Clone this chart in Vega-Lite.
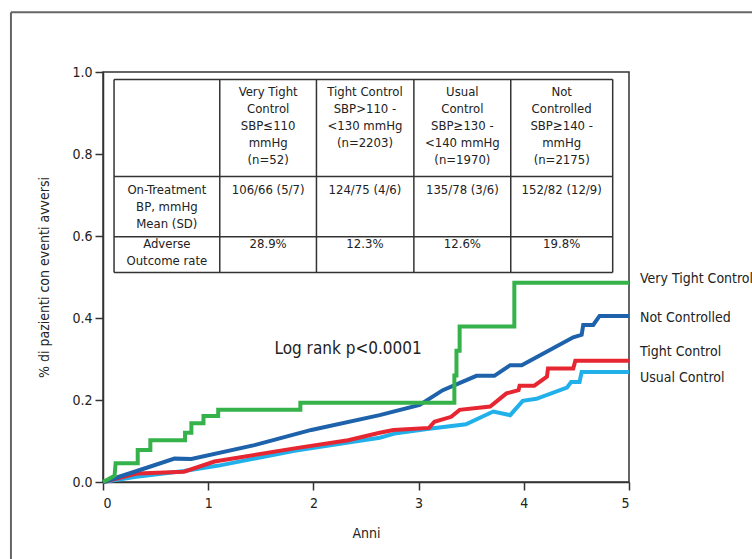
{
  "$schema": "https://vega.github.io/schema/vega-lite/v6.json",
  "width": 526,
  "height": 410,
  "autosize": {"type": "none"},
  "padding": {"left": 103, "top": 72, "right": 123, "bottom": 77},
  "background": "white",
  "config": {
    "font": "'DejaVu Sans Condensed', 'Liberation Sans Narrow', Roboto, sans-serif",
    "view": {"stroke": "#333", "strokeWidth": 1.5},
    "axis": {"labelFont": "'DejaVu Sans Condensed', 'Liberation Sans Narrow', Roboto, sans-serif", "titleFont": "'DejaVu Sans Condensed', 'Liberation Sans Narrow', Roboto, sans-serif", "labelColor": "#222", "titleColor": "#222", "domainColor": "#333", "tickColor": "#333", "domainWidth": 1.5, "tickWidth": 1.5, "grid": false, "titleFontWeight": "normal"}
  },
  "datasets": {
    "curves": [
      {"series": "Usual Control", "i": 1, "t": 0, "v": 0},
      {"series": "Usual Control", "i": 2, "t": 0.3, "v": 0.012},
      {"series": "Usual Control", "i": 3, "t": 0.77, "v": 0.027},
      {"series": "Usual Control", "i": 4, "t": 1.1, "v": 0.04},
      {"series": "Usual Control", "i": 5, "t": 1.82, "v": 0.076},
      {"series": "Usual Control", "i": 6, "t": 2.3, "v": 0.095},
      {"series": "Usual Control", "i": 7, "t": 2.63, "v": 0.108},
      {"series": "Usual Control", "i": 8, "t": 2.77, "v": 0.118},
      {"series": "Usual Control", "i": 9, "t": 3.1, "v": 0.13},
      {"series": "Usual Control", "i": 10, "t": 3.45, "v": 0.141},
      {"series": "Usual Control", "i": 11, "t": 3.71, "v": 0.172},
      {"series": "Usual Control", "i": 12, "t": 3.87, "v": 0.163},
      {"series": "Usual Control", "i": 13, "t": 3.99, "v": 0.198},
      {"series": "Usual Control", "i": 14, "t": 4.12, "v": 0.203},
      {"series": "Usual Control", "i": 15, "t": 4.41, "v": 0.23},
      {"series": "Usual Control", "i": 16, "t": 4.45, "v": 0.244},
      {"series": "Usual Control", "i": 17, "t": 4.53, "v": 0.244},
      {"series": "Usual Control", "i": 18, "t": 4.55, "v": 0.268},
      {"series": "Usual Control", "i": 19, "t": 5, "v": 0.268},
      {"series": "Tight Control", "i": 1, "t": 0, "v": 0},
      {"series": "Tight Control", "i": 2, "t": 0.33, "v": 0.021},
      {"series": "Tight Control", "i": 3, "t": 0.77, "v": 0.025},
      {"series": "Tight Control", "i": 4, "t": 1.06, "v": 0.05},
      {"series": "Tight Control", "i": 5, "t": 1.82, "v": 0.082},
      {"series": "Tight Control", "i": 6, "t": 2.33, "v": 0.102},
      {"series": "Tight Control", "i": 7, "t": 2.63, "v": 0.12},
      {"series": "Tight Control", "i": 8, "t": 2.76, "v": 0.127},
      {"series": "Tight Control", "i": 9, "t": 3.1, "v": 0.132},
      {"series": "Tight Control", "i": 10, "t": 3.15, "v": 0.147},
      {"series": "Tight Control", "i": 11, "t": 3.31, "v": 0.159},
      {"series": "Tight Control", "i": 12, "t": 3.39, "v": 0.176},
      {"series": "Tight Control", "i": 13, "t": 3.68, "v": 0.184},
      {"series": "Tight Control", "i": 14, "t": 3.835, "v": 0.216},
      {"series": "Tight Control", "i": 15, "t": 3.95, "v": 0.224},
      {"series": "Tight Control", "i": 16, "t": 3.96, "v": 0.235},
      {"series": "Tight Control", "i": 17, "t": 4.1, "v": 0.235},
      {"series": "Tight Control", "i": 18, "t": 4.22, "v": 0.257},
      {"series": "Tight Control", "i": 19, "t": 4.23, "v": 0.277},
      {"series": "Tight Control", "i": 20, "t": 4.47, "v": 0.277},
      {"series": "Tight Control", "i": 21, "t": 4.49, "v": 0.296},
      {"series": "Tight Control", "i": 22, "t": 5, "v": 0.296},
      {"series": "Not Controlled", "i": 1, "t": 0, "v": 0},
      {"series": "Not Controlled", "i": 2, "t": 0.3, "v": 0.025},
      {"series": "Not Controlled", "i": 3, "t": 0.68, "v": 0.057},
      {"series": "Not Controlled", "i": 4, "t": 0.84, "v": 0.056},
      {"series": "Not Controlled", "i": 5, "t": 1.44, "v": 0.09},
      {"series": "Not Controlled", "i": 6, "t": 1.98, "v": 0.127},
      {"series": "Not Controlled", "i": 7, "t": 2.63, "v": 0.163},
      {"series": "Not Controlled", "i": 8, "t": 3.01, "v": 0.188},
      {"series": "Not Controlled", "i": 9, "t": 3.23, "v": 0.224},
      {"series": "Not Controlled", "i": 10, "t": 3.55, "v": 0.259},
      {"series": "Not Controlled", "i": 11, "t": 3.72, "v": 0.259},
      {"series": "Not Controlled", "i": 12, "t": 3.87, "v": 0.285},
      {"series": "Not Controlled", "i": 13, "t": 3.98, "v": 0.285},
      {"series": "Not Controlled", "i": 14, "t": 4.47, "v": 0.353},
      {"series": "Not Controlled", "i": 15, "t": 4.55, "v": 0.359},
      {"series": "Not Controlled", "i": 16, "t": 4.565, "v": 0.383},
      {"series": "Not Controlled", "i": 17, "t": 4.66, "v": 0.383},
      {"series": "Not Controlled", "i": 18, "t": 4.72, "v": 0.405},
      {"series": "Not Controlled", "i": 19, "t": 5, "v": 0.405},
      {"series": "Very Tight Control", "i": 1, "t": 0, "v": 0},
      {"series": "Very Tight Control", "i": 2, "t": 0.11, "v": 0.015},
      {"series": "Very Tight Control", "i": 3, "t": 0.12, "v": 0.046},
      {"series": "Very Tight Control", "i": 4, "t": 0.33, "v": 0.046},
      {"series": "Very Tight Control", "i": 5, "t": 0.33, "v": 0.078},
      {"series": "Very Tight Control", "i": 6, "t": 0.45, "v": 0.078},
      {"series": "Very Tight Control", "i": 7, "t": 0.45, "v": 0.102},
      {"series": "Very Tight Control", "i": 8, "t": 0.78, "v": 0.102},
      {"series": "Very Tight Control", "i": 9, "t": 0.78, "v": 0.12},
      {"series": "Very Tight Control", "i": 10, "t": 0.84, "v": 0.12},
      {"series": "Very Tight Control", "i": 11, "t": 0.84, "v": 0.143},
      {"series": "Very Tight Control", "i": 12, "t": 0.955, "v": 0.143},
      {"series": "Very Tight Control", "i": 13, "t": 0.955, "v": 0.161},
      {"series": "Very Tight Control", "i": 14, "t": 1.095, "v": 0.161},
      {"series": "Very Tight Control", "i": 15, "t": 1.095, "v": 0.176},
      {"series": "Very Tight Control", "i": 16, "t": 1.876, "v": 0.176},
      {"series": "Very Tight Control", "i": 17, "t": 1.876, "v": 0.193},
      {"series": "Very Tight Control", "i": 18, "t": 3.34, "v": 0.193},
      {"series": "Very Tight Control", "i": 19, "t": 3.34, "v": 0.26},
      {"series": "Very Tight Control", "i": 20, "t": 3.36, "v": 0.26},
      {"series": "Very Tight Control", "i": 21, "t": 3.36, "v": 0.32},
      {"series": "Very Tight Control", "i": 22, "t": 3.39, "v": 0.32},
      {"series": "Very Tight Control", "i": 23, "t": 3.39, "v": 0.379},
      {"series": "Very Tight Control", "i": 24, "t": 3.91, "v": 0.379},
      {"series": "Very Tight Control", "i": 25, "t": 3.91, "v": 0.486},
      {"series": "Very Tight Control", "i": 26, "t": 5, "v": 0.486}
    ],
    "hlines": [
      {"y": 0.982, "x1": 0.105, "x2": 4.845},
      {"y": 0.745, "x1": 0.105, "x2": 4.845},
      {"y": 0.598, "x1": 0.105, "x2": 4.845},
      {"y": 0.511, "x1": 0.105, "x2": 4.845}
    ],
    "vlines": [
      {"x": 0.105, "y1": 0.511, "y2": 0.982},
      {"x": 1.11, "y1": 0.511, "y2": 0.982},
      {"x": 2.029, "y1": 0.511, "y2": 0.982},
      {"x": 2.955, "y1": 0.511, "y2": 0.982},
      {"x": 3.876, "y1": 0.511, "y2": 0.982},
      {"x": 4.845, "y1": 0.511, "y2": 0.982}
    ],
    "cells": [
      {"x": 1.57, "y": 0.966, "text": "Very Tight\nControl\nSBP≤110\nmmHg\n(n=52)"},
      {"x": 2.49, "y": 0.966, "text": "Tight Control\nSBP>110 -\n<130 mmHg\n(n=2203)"},
      {"x": 3.416, "y": 0.966, "text": "Usual\nControl\nSBP≥130 -\n<140 mmHg\n(n=1970)"},
      {"x": 4.36, "y": 0.966, "text": "Not\nControlled\nSBP≥140 -\nmmHg\n(n=2175)"},
      {"x": 0.607, "y": 0.727, "text": "On-Treatment\nBP, mmHg\nMean (SD)"},
      {"x": 1.57, "y": 0.727, "text": "106/66 (5/7)"},
      {"x": 2.49, "y": 0.727, "text": "124/75 (4/6)"},
      {"x": 3.416, "y": 0.727, "text": "135/78 (3/6)"},
      {"x": 4.36, "y": 0.727, "text": "152/82 (12/9)"},
      {"x": 0.607, "y": 0.595, "text": "Adverse\nOutcome rate"},
      {"x": 1.57, "y": 0.595, "text": "28.9%"},
      {"x": 2.49, "y": 0.595, "text": "12.3%"},
      {"x": 3.416, "y": 0.595, "text": "12.6%"},
      {"x": 4.36, "y": 0.595, "text": "19.8%"}
    ],
    "labels": [
      {"t": 5, "v": 0.495, "label": "Very Tight Control"},
      {"t": 5, "v": 0.4, "label": "Not Controlled"},
      {"t": 5, "v": 0.317, "label": "Tight Control"},
      {"t": 5, "v": 0.254, "label": "Usual Control"}
    ],
    "note": [
      {"t": 1.63, "v": 0.324, "label": "Log rank p<0.0001"}
    ],
    "frame": [
      {"x": -0.875, "y": 1.146, "xe": 8, "ye": -1}
    ]
  },
  "layer": [
    {
      "data": {"name": "frame"},
      "mark": {"type": "rule", "color": "#666", "strokeWidth": 2, "clip": false},
      "encoding": {
        "x": {"field": "x", "type": "quantitative", "scale": {"domain": [0, 5]}},
        "y": {"field": "y", "type": "quantitative", "scale": {"domain": [0, 1]}},
        "x2": {"field": "xe"}
      }
    },
    {
      "data": {"name": "frame"},
      "mark": {"type": "rule", "color": "#666", "strokeWidth": 2, "clip": false},
      "encoding": {
        "x": {"field": "x", "type": "quantitative"},
        "y": {"field": "y", "type": "quantitative"},
        "y2": {"field": "ye"}
      }
    },
    {
      "data": {"name": "curves"},
      "mark": {"type": "line", "strokeWidth": 4, "strokeJoin": "miter", "strokeCap": "butt"},
      "encoding": {
        "x": {"field": "t", "type": "quantitative", "scale": {"domain": [0, 5], "nice": false},
          "axis": {"values": [0, 1, 2, 3, 4, 5], "format": "d", "title": "Anni", "labelFontSize": 14, "titleFontSize": 14, "tickSize": 8, "labelPadding": 6, "titlePadding": 16}},
        "y": {"field": "v", "type": "quantitative", "scale": {"domain": [0, 1], "nice": false},
          "axis": {"values": [0, 0.2, 0.4, 0.6, 0.8, 1.0], "format": ".1f", "title": "% di pazienti con eventi avversi", "labelFontSize": 14, "titleFontSize": 14, "tickSize": 8, "labelPadding": 3, "titlePadding": 20}},
        "color": {"field": "series", "type": "nominal", "legend": null,
          "scale": {"domain": ["Usual Control", "Tight Control", "Not Controlled", "Very Tight Control"], "range": ["#22b0ea", "#e62631", "#1d62ab", "#35b24a"]}},
        "order": {"field": "i", "type": "quantitative"}
      }
    },
    {
      "data": {"name": "hlines"},
      "mark": {"type": "rule", "color": "#333", "strokeWidth": 1.5},
      "encoding": {
        "x": {"field": "x1", "type": "quantitative"},
        "x2": {"field": "x2"},
        "y": {"field": "y", "type": "quantitative"}
      }
    },
    {
      "data": {"name": "vlines"},
      "mark": {"type": "rule", "color": "#333", "strokeWidth": 1.5},
      "encoding": {
        "x": {"field": "x", "type": "quantitative"},
        "y": {"field": "y1", "type": "quantitative"},
        "y2": {"field": "y2"}
      }
    },
    {
      "data": {"name": "cells"},
      "mark": {"type": "text", "align": "center", "baseline": "top", "lineBreak": "\n", "fontSize": 13, "lineHeight": 17, "color": "#222"},
      "encoding": {
        "x": {"field": "x", "type": "quantitative"},
        "y": {"field": "y", "type": "quantitative"},
        "text": {"field": "text"}
      }
    },
    {
      "data": {"name": "labels"},
      "mark": {"type": "text", "align": "left", "baseline": "middle", "dx": 11, "fontSize": 14, "color": "#222", "clip": false},
      "encoding": {
        "x": {"field": "t", "type": "quantitative"},
        "y": {"field": "v", "type": "quantitative"},
        "text": {"field": "label"}
      }
    },
    {
      "data": {"name": "note"},
      "mark": {"type": "text", "align": "left", "baseline": "middle", "fontSize": 17, "color": "#222"},
      "encoding": {
        "x": {"field": "t", "type": "quantitative"},
        "y": {"field": "v", "type": "quantitative"},
        "text": {"field": "label"}
      }
    }
  ]
}
